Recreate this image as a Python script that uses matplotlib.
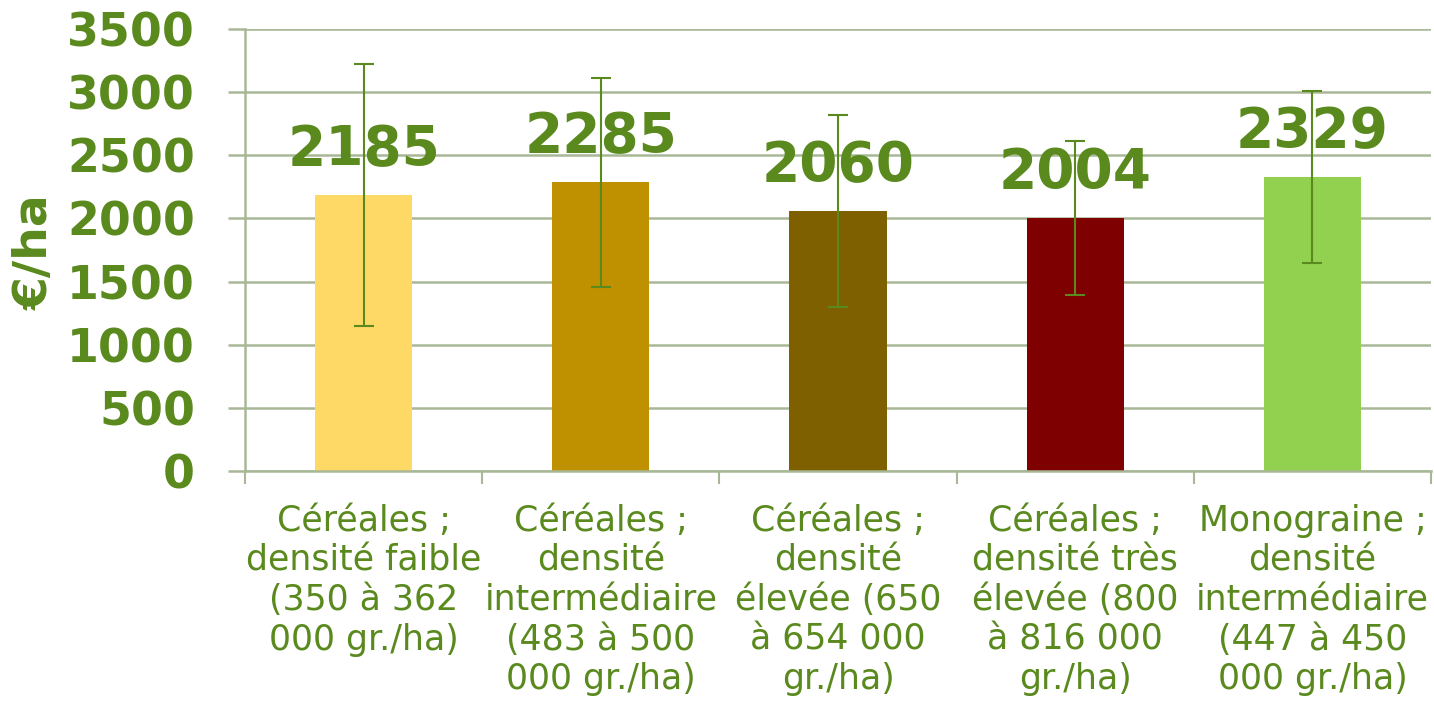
import matplotlib
matplotlib.use("Agg")
import matplotlib.pyplot as plt
import numpy as np

categories = [
    "Céréales ;\ndensité faible\n(350 à 362\n000 gr./ha)",
    "Céréales ;\ndensité\nintermédiaire\n(483 à 500\n000 gr./ha)",
    "Céréales ;\ndensité\nélevée (650\nà 654 000\ngr./ha)",
    "Céréales ;\ndensité très\nélevée (800\nà 816 000\ngr./ha)",
    "Monograine ;\ndensité\nintermédiaire\n(447 à 450\n000 gr./ha)",
]
values = [2185, 2285, 2060, 2004, 2329]
errors = [1040, 828, 760, 610, 680]
colors = ["#FFD966", "#BF9000", "#7F6000", "#7F0000", "#92D050"]
yticks = [0, 500, 1000, 1500, 2000, 2500, 3000, 3500]

green = "#5A8A1E"
grid_c = "#A8B896"

plt.rcParams['font.family'] = ['DejaVu Sans']
fig = plt.figure(figsize=(14.34, 7.11), dpi=100)
ax = fig.add_axes([245/1434, 1-471/711, (1431-245)/1434, (471-29)/711])

x = np.arange(len(values))
ax.bar(x, values, width=0.41, color=colors, zorder=2)
ax.errorbar(x, values, yerr=errors, fmt='none', ecolor=green, elinewidth=1.5,
            capsize=7.5, capthick=1.5, zorder=3)

for xi, v in zip(x, values):
    ax.annotate(str(v), (xi, v), xytext=(0, 13), textcoords='offset points',
                ha='center', va='bottom', fontsize=39.5, fontweight='bold', color=green, zorder=4)

ax.set_xlim(-0.5, len(values) - 0.5)
ax.set_ylim(0, 3500)
ax.set_yticks(yticks)
ax.set_yticklabels([str(t) for t in yticks], fontsize=33, fontweight='bold', color=green)
ax.yaxis.grid(True, color=grid_c, linewidth=1.8, zorder=0)
ax.set_axisbelow(True)

ax.set_xticks(x)
ax.set_xticklabels(categories, fontsize=25, color=green, linespacing=1.2)
ax.set_xticks(np.arange(len(values) + 1) - 0.5, minor=True)
ax.tick_params(axis='x', which='major', length=0, pad=24)
ax.tick_params(axis='x', which='minor', length=9, width=1.5, color=grid_c, direction='out')
ax.tick_params(axis='y', which='major', length=12, width=1.8, color=grid_c, pad=24)

for s in ['top', 'right']:
    ax.spines[s].set_visible(False)
for s in ['left', 'bottom']:
    ax.spines[s].set_color(grid_c)
    ax.spines[s].set_linewidth(1.8)

fig.text(35/1434, 1-252/711, "€/ha", rotation=90, ha='center', va='center',
         fontsize=34, fontweight='bold', color=green)

fig.savefig("out.png", dpi=100)
